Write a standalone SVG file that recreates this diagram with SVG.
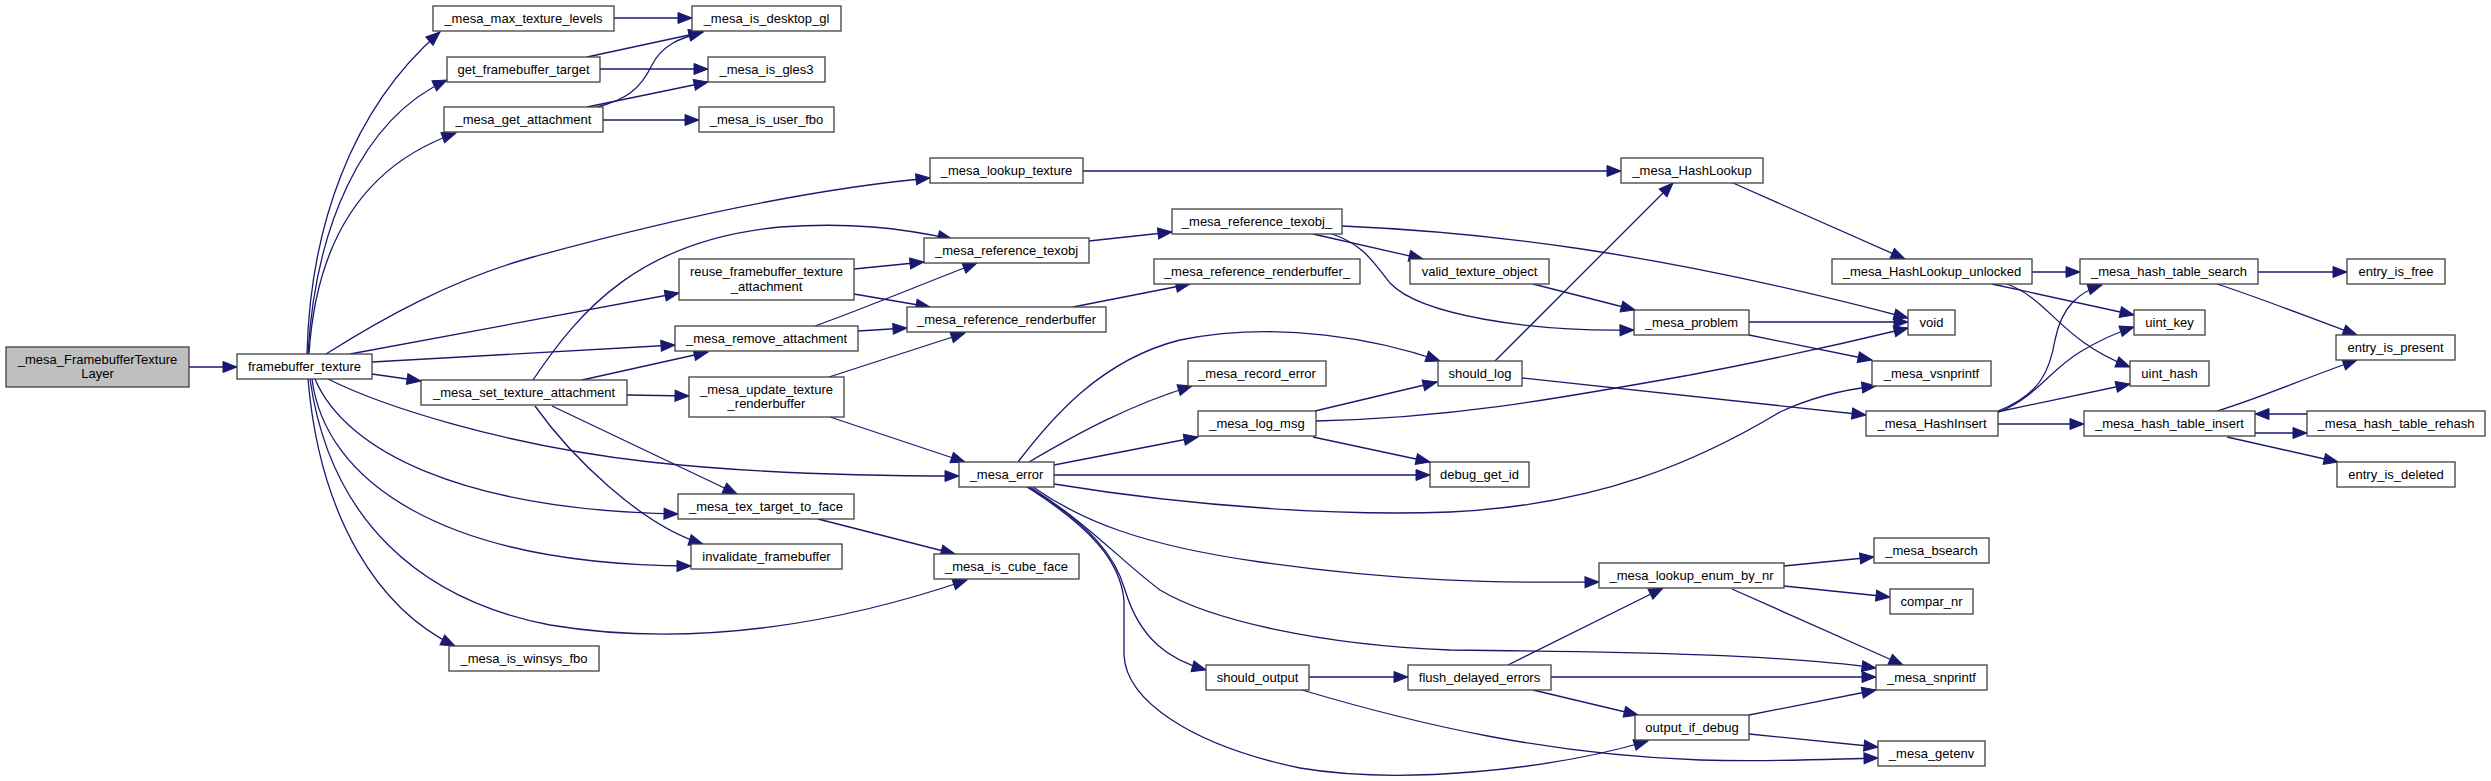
<svg xmlns="http://www.w3.org/2000/svg" width="2491" height="781" viewBox="0 0 2491 781">
<style>
.n rect{fill:#fff;stroke:#404040;stroke-width:1.3}
.root rect{fill:#bfbfbf}
text{font-family:"Liberation Sans",Arial,Helvetica,sans-serif;font-size:13px;text-anchor:middle;fill:#000}
#edges path{fill:none;stroke:#191970;stroke-width:1.3;marker-end:url(#a)}
</style>
<defs>
<marker id="a" markerUnits="userSpaceOnUse" markerWidth="14" markerHeight="11" refX="14" refY="5.5" orient="auto" viewBox="0 0 14 11" overflow="visible"><path d="M0,0 L14,5.5 L0,11 z" fill="#191970" stroke="#191970" stroke-width="1"/></marker>
</defs>
<rect width="2491" height="781" fill="#fff"/>
<g id="edges">
<path d="M189,367 L237,367"/>
<path d="M307,354 C310,230 350,110 440,32"/>
<path d="M308,354 C315,230 360,120 447,80"/>
<path d="M309,354 C315,260 350,170 456,133"/>
<path d="M326,354 C380,320 450,280 533,257 C650,225 800,190 930,178"/>
<path d="M350,354 L679,293"/>
<path d="M372,362 L675,345"/>
<path d="M372,374 L421,381"/>
<path d="M328,379 C380,405 500,445 650,462 C760,474 880,476 959,476"/>
<path d="M315,379 C345,450 460,510 678,514"/>
<path d="M312,379 C325,480 440,565 691,566"/>
<path d="M310,379 C330,520 420,600 550,625 C700,650 850,620 967,580"/>
<path d="M308,379 C320,520 380,610 455,646"/>
<path d="M614,18 L692,18"/>
<path d="M587,57 L703,32"/>
<path d="M600,69 L708,69"/>
<path d="M597,107 C625,100 640,90 652,65 C662,45 680,38 703,32"/>
<path d="M587,107 L708,82"/>
<path d="M603,120 L699,120"/>
<path d="M1083,171 L1621,171"/>
<path d="M1733,183 L1905,259"/>
<path d="M2032,272 L2080,272"/>
<path d="M1992,284 L2134,315"/>
<path d="M2007,284 C2050,300 2060,340 2130,367"/>
<path d="M1998,411 C2040,395 2050,370 2055,340 C2062,305 2080,292 2102,285"/>
<path d="M1999,412 C2035,398 2050,370 2080,352 C2100,340 2115,333 2134,327"/>
<path d="M1997,412 L2130,384"/>
<path d="M1998,424 L2084,424"/>
<path d="M2258,272 L2347,272"/>
<path d="M2217,284 C2260,298 2300,314 2357,335"/>
<path d="M2217,411 C2260,398 2300,380 2357,360"/>
<path d="M2255,433 L2307,433"/>
<path d="M2307,414 L2255,414"/>
<path d="M2227,437 L2338,462"/>
<path d="M1089,241 L1172,232"/>
<path d="M1313,234 L1423,259"/>
<path d="M1332,234 C1365,245 1375,265 1390,283 C1420,315 1530,332 1634,330"/>
<path d="M1342,226 C1480,232 1650,250 1908,318"/>
<path d="M1533,284 L1635,310"/>
<path d="M1749,322 L1908,322"/>
<path d="M1749,335 L1872,360"/>
<path d="M854,269 L924,262"/>
<path d="M854,294 L930,307"/>
<path d="M815,326 C860,310 920,285 977,263"/>
<path d="M858,331 L907,328"/>
<path d="M533,380 C580,310 640,240 780,227 C850,222 900,228 952,239"/>
<path d="M582,380 L708,352"/>
<path d="M627,395 L689,396"/>
<path d="M552,406 L737,494"/>
<path d="M535,406 C570,455 640,525 703,544"/>
<path d="M829,377 L965,333"/>
<path d="M830,417 L965,462"/>
<path d="M818,519 L955,554"/>
<path d="M1073,307 L1190,284"/>
<path d="M1018,462 C1050,420 1100,360 1180,340 C1280,320 1380,340 1440,361"/>
<path d="M1029,462 C1080,432 1130,405 1192,386"/>
<path d="M1054,465 L1198,437"/>
<path d="M1054,475 L1430,475"/>
<path d="M1054,484 C1200,508 1350,516 1450,512 C1600,505 1700,460 1780,412 C1810,398 1840,390 1876,386"/>
<path d="M1033,487 C1080,520 1140,545 1260,562 C1400,582 1500,583 1599,582"/>
<path d="M1030,487 C1090,525 1120,560 1160,590 C1210,620 1320,645 1450,650 C1650,652 1780,655 1876,668"/>
<path d="M1028,487 C1090,525 1115,555 1125,590 C1140,640 1170,660 1206,670"/>
<path d="M1027,487 C1090,527 1120,560 1124,600 L1124,655 C1126,700 1190,745 1300,768 C1400,785 1550,770 1648,741"/>
<path d="M1302,690 C1420,725 1550,755 1700,760 C1780,762 1830,759 1878,758"/>
<path d="M1309,677 L1408,677"/>
<path d="M1508,665 L1663,588"/>
<path d="M1551,677 L1876,677"/>
<path d="M1533,690 L1638,715"/>
<path d="M1749,715 L1876,690"/>
<path d="M1749,734 L1878,747"/>
<path d="M1784,566 L1874,557"/>
<path d="M1784,586 L1890,597"/>
<path d="M1732,589 L1903,665"/>
<path d="M1315,411 L1437,382"/>
<path d="M1316,421 C1450,418 1550,400 1690,375 C1780,358 1850,342 1908,328"/>
<path d="M1313,437 L1430,462"/>
<path d="M1495,361 L1673,183"/>
<path d="M1522,378 L1866,415"/>
</g>
<g id="n0" class="n root"><rect x="6" y="347" width="183" height="40"/><text x="97.5" y="363.5">_mesa_FramebufferTexture</text><text x="97.5" y="377.5">Layer</text></g>
<g id="n1" class="n"><rect x="237" y="354" width="135" height="25"/><text x="304.5" y="370.5">framebuffer_texture</text></g>
<g id="n2" class="n"><rect x="433" y="6" width="181" height="25"/><text x="523.5" y="22.5">_mesa_max_texture_levels</text></g>
<g id="n3" class="n"><rect x="692" y="6" width="149" height="25"/><text x="766.5" y="22.5">_mesa_is_desktop_gl</text></g>
<g id="n4" class="n"><rect x="447" y="57" width="153" height="25"/><text x="523.5" y="73.5">get_framebuffer_target</text></g>
<g id="n5" class="n"><rect x="708" y="57" width="117" height="25"/><text x="766.5" y="73.5">_mesa_is_gles3</text></g>
<g id="n6" class="n"><rect x="444" y="107" width="159" height="25"/><text x="523.5" y="123.5">_mesa_get_attachment</text></g>
<g id="n7" class="n"><rect x="699" y="107" width="135" height="25"/><text x="766.5" y="123.5">_mesa_is_user_fbo</text></g>
<g id="n8" class="n"><rect x="930" y="158" width="153" height="25"/><text x="1006.5" y="174.5">_mesa_lookup_texture</text></g>
<g id="n9" class="n"><rect x="1621" y="158" width="142" height="25"/><text x="1692" y="174.5">_mesa_HashLookup</text></g>
<g id="n10" class="n"><rect x="1832" y="259" width="200" height="25"/><text x="1932" y="275.5">_mesa_HashLookup_unlocked</text></g>
<g id="n11" class="n"><rect x="2080" y="259" width="178" height="25"/><text x="2169" y="275.5">_mesa_hash_table_search</text></g>
<g id="n12" class="n"><rect x="2347" y="259" width="98" height="25"/><text x="2396" y="275.5">entry_is_free</text></g>
<g id="n13" class="n"><rect x="2336" y="335" width="119" height="25"/><text x="2395.5" y="351.5">entry_is_present</text></g>
<g id="n14" class="n"><rect x="2134" y="310" width="71" height="25"/><text x="2169.5" y="326.5">uint_key</text></g>
<g id="n15" class="n"><rect x="2130" y="361" width="79" height="25"/><text x="2169.5" y="377.5">uint_hash</text></g>
<g id="n16" class="n"><rect x="924" y="238" width="165" height="25"/><text x="1006.5" y="254.5">_mesa_reference_texobj</text></g>
<g id="n17" class="n"><rect x="1172" y="209" width="170" height="25"/><text x="1257" y="225.5">_mesa_reference_texobj_</text></g>
<g id="n18" class="n"><rect x="1410" y="259" width="139" height="25"/><text x="1479.5" y="275.5">valid_texture_object</text></g>
<g id="n19" class="n"><rect x="1634" y="310" width="115" height="25"/><text x="1691.5" y="326.5">_mesa_problem</text></g>
<g id="n20" class="n"><rect x="1908" y="310" width="47" height="25"/><text x="1931.5" y="326.5">void</text></g>
<g id="n21" class="n"><rect x="1872" y="361" width="119" height="25"/><text x="1931.5" y="377.5">_mesa_vsnprintf</text></g>
<g id="n22" class="n"><rect x="679" y="259" width="175" height="41"/><text x="766.5" y="276">reuse_framebuffer_texture</text><text x="766.5" y="290.5">_attachment</text></g>
<g id="n23" class="n"><rect x="907" y="307" width="199" height="25"/><text x="1006.5" y="323.5">_mesa_reference_renderbuffer</text></g>
<g id="n24" class="n"><rect x="1154" y="259" width="206" height="25"/><text x="1257" y="275.5">_mesa_reference_renderbuffer_</text></g>
<g id="n25" class="n"><rect x="675" y="326" width="183" height="25"/><text x="766.5" y="342.5">_mesa_remove_attachment</text></g>
<g id="n26" class="n"><rect x="421" y="380" width="206" height="25"/><text x="524" y="396.5">_mesa_set_texture_attachment</text></g>
<g id="n27" class="n"><rect x="689" y="377" width="155" height="40"/><text x="766.5" y="393.5">_mesa_update_texture</text><text x="766.5" y="407.5">_renderbuffer</text></g>
<g id="n28" class="n"><rect x="959" y="462" width="95" height="25"/><text x="1006.5" y="478.5">_mesa_error</text></g>
<g id="n29" class="n"><rect x="1188" y="361" width="138" height="25"/><text x="1257" y="377.5">_mesa_record_error</text></g>
<g id="n30" class="n"><rect x="1438" y="361" width="84" height="25"/><text x="1480" y="377.5">should_log</text></g>
<g id="n31" class="n"><rect x="1866" y="411" width="132" height="25"/><text x="1932" y="427.5">_mesa_HashInsert</text></g>
<g id="n32" class="n"><rect x="2084" y="411" width="171" height="25"/><text x="2169.5" y="427.5">_mesa_hash_table_insert</text></g>
<g id="n33" class="n"><rect x="2307" y="411" width="178" height="25"/><text x="2396" y="427.5">_mesa_hash_table_rehash</text></g>
<g id="n34" class="n"><rect x="2337" y="462" width="118" height="25"/><text x="2396" y="478.5">entry_is_deleted</text></g>
<g id="n35" class="n"><rect x="1198" y="411" width="118" height="25"/><text x="1257" y="427.5">_mesa_log_msg</text></g>
<g id="n36" class="n"><rect x="1430" y="462" width="99" height="25"/><text x="1479.5" y="478.5">debug_get_id</text></g>
<g id="n37" class="n"><rect x="1599" y="563" width="185" height="25"/><text x="1691.5" y="579.5">_mesa_lookup_enum_by_nr</text></g>
<g id="n38" class="n"><rect x="1874" y="538" width="115" height="25"/><text x="1931.5" y="554.5">_mesa_bsearch</text></g>
<g id="n39" class="n"><rect x="1890" y="589" width="83" height="25"/><text x="1931.5" y="605.5">compar_nr</text></g>
<g id="n40" class="n"><rect x="1876" y="665" width="111" height="25"/><text x="1931.5" y="681.5">_mesa_snprintf</text></g>
<g id="n41" class="n"><rect x="1206" y="665" width="103" height="25"/><text x="1257.5" y="681.5">should_output</text></g>
<g id="n42" class="n"><rect x="1408" y="665" width="143" height="25"/><text x="1479.5" y="681.5">flush_delayed_errors</text></g>
<g id="n43" class="n"><rect x="1635" y="715" width="114" height="25"/><text x="1692" y="731.5">output_if_debug</text></g>
<g id="n44" class="n"><rect x="1878" y="741" width="107" height="25"/><text x="1931.5" y="757.5">_mesa_getenv</text></g>
<g id="n45" class="n"><rect x="678" y="494" width="176" height="25"/><text x="766" y="510.5">_mesa_tex_target_to_face</text></g>
<g id="n46" class="n"><rect x="934" y="554" width="145" height="25"/><text x="1006.5" y="570.5">_mesa_is_cube_face</text></g>
<g id="n47" class="n"><rect x="691" y="544" width="151" height="25"/><text x="766.5" y="560.5">invalidate_framebuffer</text></g>
<g id="n48" class="n"><rect x="449" y="646" width="150" height="25"/><text x="524" y="662.5">_mesa_is_winsys_fbo</text></g>
</svg>
